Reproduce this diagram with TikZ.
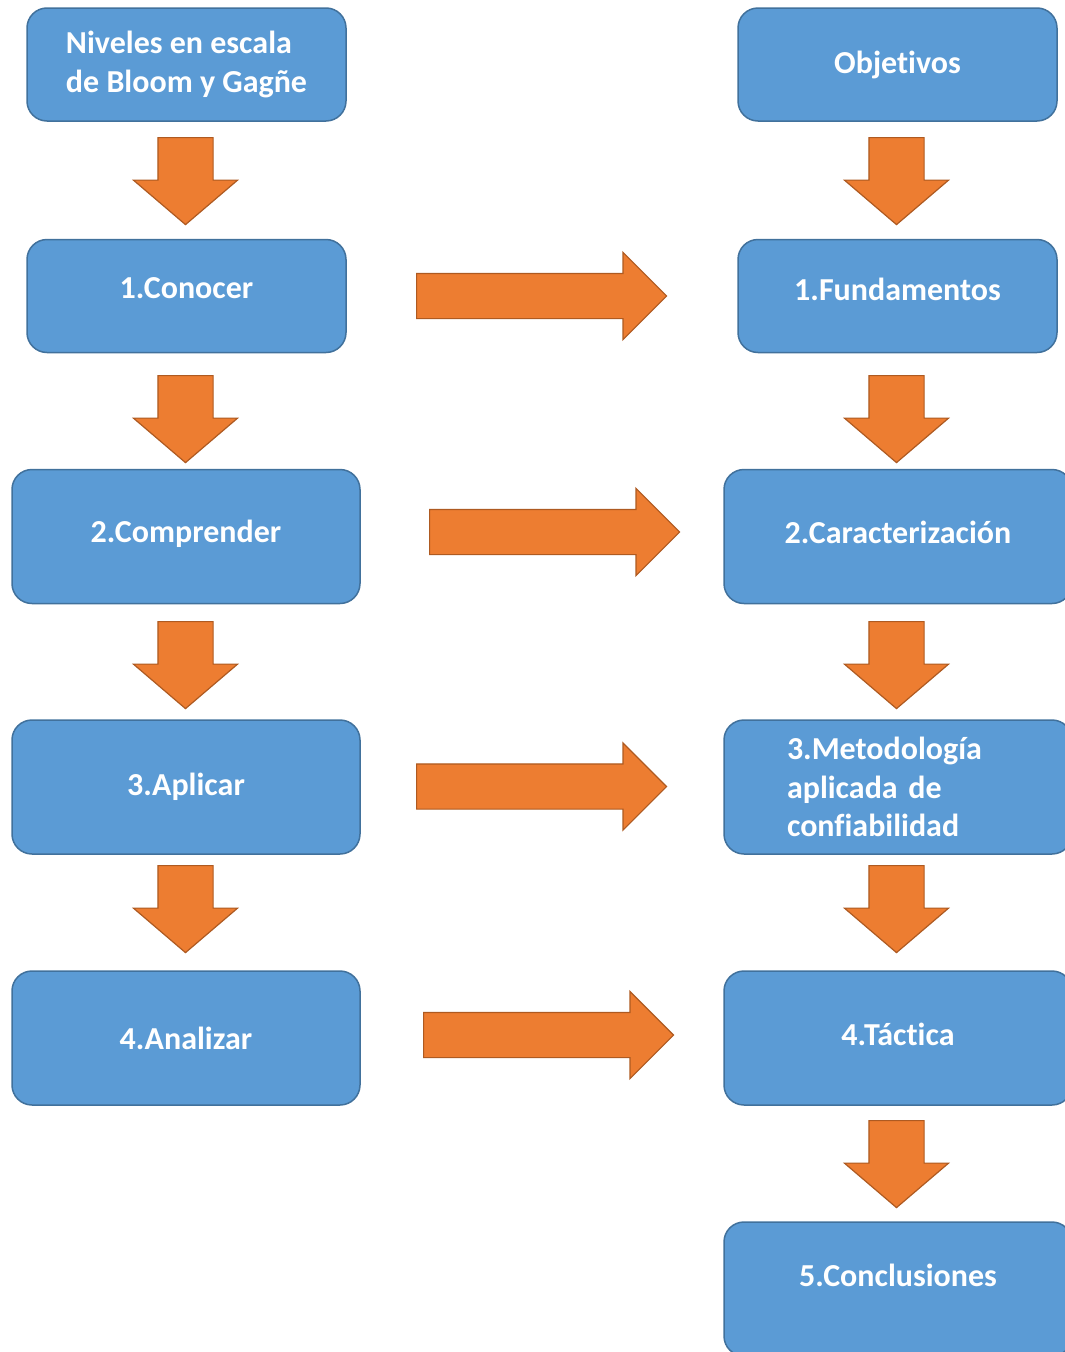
\documentclass[tikz,border=0pt]{standalone}
\usepackage{fontspec}
\setmainfont{Carlito}[Ligatures=NoCommon]
\usetikzlibrary{shapes.arrows}
\definecolor{cajaAzul}{HTML}{5B9BD5}
\definecolor{bordeAzul}{HTML}{41719C}
\definecolor{flechaNaranja}{HTML}{ED7D31}
\definecolor{bordeNaranja}{HTML}{AE5A21}

\begin{document}
\begin{tikzpicture}[
        x=1pt, y=-1pt,
        caja/.style={draw=bordeAzul, line width=1.5pt, fill=cajaAzul, rounded corners=20pt, text=white, font=\fontsize{32}{38.5}\selectfont\bfseries, align=center, inner sep=0pt},
        cajaIzq/.style={caja, minimum width=319pt, minimum height=113pt},
        cajaAncha/.style={caja, minimum width=348pt, minimum height=134pt},
        subir/.style={text depth=#1},
        flecha/.style={single arrow, draw=bordeNaranja, line width=1.2pt, fill=flechaNaranja, single arrow head indent=0pt, anchor=tail},
        bajada/.style={flecha, rotate=-90, inner sep=27pt, minimum height=87pt, single arrow head extend=24.5pt, single arrow tip angle=99},
        avance/.style={flecha, inner sep=22pt, minimum height=250pt, single arrow head extend=21pt, single arrow tip angle=90}
    ]
        \useasboundingbox (0,0) rectangle (1065,1352);
        \clip (0,0) rectangle (1065,1352);

        % Columna izquierda: niveles
        \node[cajaIzq, align=left] (niveles) at (186.5,64.5) {Niveles en escala\\de Bloom y Gagñe};
        \node[cajaIzq, subir=16pt] (conocer) at (186.5,296) {1.Conocer};
        \node[cajaAncha, subir=10pt] (comprender) at (186,536.5) {2.Comprender};
        \node[cajaAncha] (aplicar) at (186,787) {3.Aplicar};
        \node[cajaAncha] (analizar) at (186,1038) {4.Analizar};

        % Columna derecha: objetivos
        \node[cajaIzq] (objetivos) at (897.5,64.5) {Objetivos};
        \node[cajaIzq, subir=14pt] (fundamentos) at (897.5,296) {1.Fundamentos};
        \node[cajaAncha, subir=9pt] (caracterizacion) at (898,536.5) {2.Caracterización};
        \node[cajaAncha, text width=222pt, align=left] (metodologia) at (898,787) {3.Metodología\\aplicada de\\confiabilidad};
        \node[cajaAncha, subir=8pt] (tactica) at (898,1038) {4.Táctica};
        \node[cajaAncha, subir=28pt] (conclusiones) at (898,1289) {5.Conclusiones};

        % Flechas hacia abajo (ancladas por la cola)
        \node[bajada] (b1) at (185.5,137) {};
        \node[bajada] (b2) at (185.5,375) {};
        \node[bajada] (b3) at (185.5,621) {};
        \node[bajada] (b4) at (185.5,865) {};
        \node[bajada] (d1) at (896.5,137) {};
        \node[bajada] (d2) at (896.5,375) {};
        \node[bajada] (d3) at (896.5,621) {};
        \node[bajada] (d4) at (896.5,865) {};
        \node[bajada] (d5) at (896.5,1120) {};

        % Flechas de correspondencia
        \node[avance] (h1) at (416,296) {};
        \node[avance] (h2) at (429,532) {};
        \node[avance] (h3) at (416,786.5) {};
        \node[avance] (h4) at (423,1035) {};
    \end{tikzpicture}
\end{document}
